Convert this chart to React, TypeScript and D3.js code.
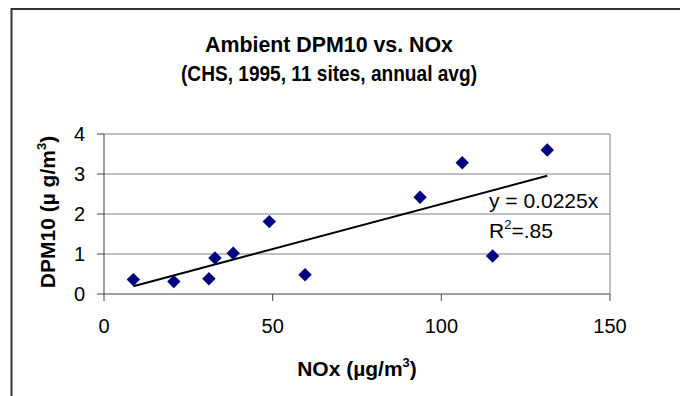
import React from "react";
import * as d3 from "d3";

const noxValues = [8.7, 20.7, 31.1, 32.9, 38.3, 49.0, 59.6, 93.7, 106.2, 115.2, 131.4];
const dpmValues = [0.36, 0.31, 0.38, 0.9, 1.02, 1.81, 0.48, 2.42, 3.28, 0.95, 3.6];
const xTicks = [0, 50, 100, 150];
const yTicks = [0, 1, 2, 3, 4];
const trendSlope = 0.0225;
const titleLines = ["Ambient DPM10 vs. NOx", "(CHS, 1995, 11 sites, annual avg)"];
const titleWidths = [248, 296];

const W = 680;
const H = 396;
const FONT = "Liberation Sans, Arial, sans-serif";

export default function App() {
  const plot = { left: 104, right: 610, top: 134, bottom: 294 };
  const x = d3.scaleLinear().domain([0, 150]).range([plot.left, plot.right]);
  const y = d3.scaleLinear().domain([0, 4]).range([plot.bottom, plot.top]);

  const points = noxValues.map((v, i) => ({ x: v, y: dpmValues[i] }));
  const xMin = d3.min(noxValues) as number;
  const xMax = d3.max(noxValues) as number;
  const trend = d3.line<number>().x((d) => x(d)).y((d) => y(trendSlope * d))([xMin, xMax]) as string;
  const diamond = d3.symbol().type(d3.symbolDiamond2).size(115)() as string;

  return (
    <svg
      width={W}
      height={H}
      style={{ position: "absolute", left: 0, top: 0, background: "#fff" }}
      fontFamily={FONT}
    >
      <rect x={0} y={0} width={W} height={H} fill="#fff" />
      {/* chart border */}
      <rect x={11.5} y={9} width={W + 20} height={H + 20} fill="none" stroke="#333" strokeWidth={2} />

      {/* title */}
      {titleLines.map((t, i) => (
        <text
          key={i}
          x={329}
          y={52 + i * 29}
          textAnchor="middle"
          fontWeight="bold"
          fontSize={21.5}
          textLength={titleWidths[i]}
          lengthAdjust="spacingAndGlyphs"
        >
          {t}
        </text>
      ))}

      {/* gridlines */}
      {yTicks.filter((t) => t > 0).map((t) => (
        <line key={t} x1={plot.left} x2={plot.right} y1={y(t)} y2={y(t)} stroke="#808080" strokeWidth={1} />
      ))}
      <line x1={plot.right} x2={plot.right} y1={plot.top} y2={plot.bottom} stroke="#808080" strokeWidth={1} />

      {/* axes */}
      <line x1={plot.left} x2={plot.left} y1={plot.top} y2={plot.bottom} stroke="#404040" strokeWidth={1} />
      <line x1={plot.left} x2={plot.right} y1={plot.bottom} y2={plot.bottom} stroke="#404040" strokeWidth={1} />
      {yTicks.map((t) => (
        <g key={t}>
          <line x1={plot.left - 7} x2={plot.left} y1={y(t)} y2={y(t)} stroke="#404040" />
          <text x={plot.left - 19} y={y(t) + 7} textAnchor="end" fontSize={20}>
            {t}
          </text>
        </g>
      ))}
      {xTicks.map((t) => (
        <g key={t}>
          <line x1={x(t)} x2={x(t)} y1={plot.bottom} y2={plot.bottom + 7} stroke="#404040" />
          <text x={x(t)} y={plot.bottom + 39} textAnchor="middle" fontSize={20}>
            {t}
          </text>
        </g>
      ))}

      {/* axis titles */}
      <text x={357} y={376} textAnchor="middle" fontWeight="bold" fontSize={21}>
        NOx (µg/m<tspan dy={-9} fontSize={13}>3</tspan>
        <tspan dy={9}>)</tspan>
      </text>
      <text
        transform={`translate(55, 212) rotate(-90)`}
        textAnchor="middle"
        fontWeight="bold"
        fontSize={21}
      >
        DPM10 (µ g/m<tspan dy={-9} fontSize={13}>3</tspan>
        <tspan dy={9}>)</tspan>
      </text>

      {/* trendline */}
      <path d={trend} fill="none" stroke="#000" strokeWidth={2} />

      {/* points */}
      {points.map((p, i) => (
        <path key={i} d={diamond} transform={`translate(${x(p.x)},${y(p.y)})`} fill="#000080" />
      ))}

      {/* trend label */}
      <text x={489} y={208} fontSize={21}>
        y  = 0.0225x
      </text>
      <text x={489} y={238} fontSize={21}>
        R<tspan dy={-9} fontSize={13}>2</tspan>
        <tspan dy={9}>=.85</tspan>
      </text>
    </svg>
  );
}
